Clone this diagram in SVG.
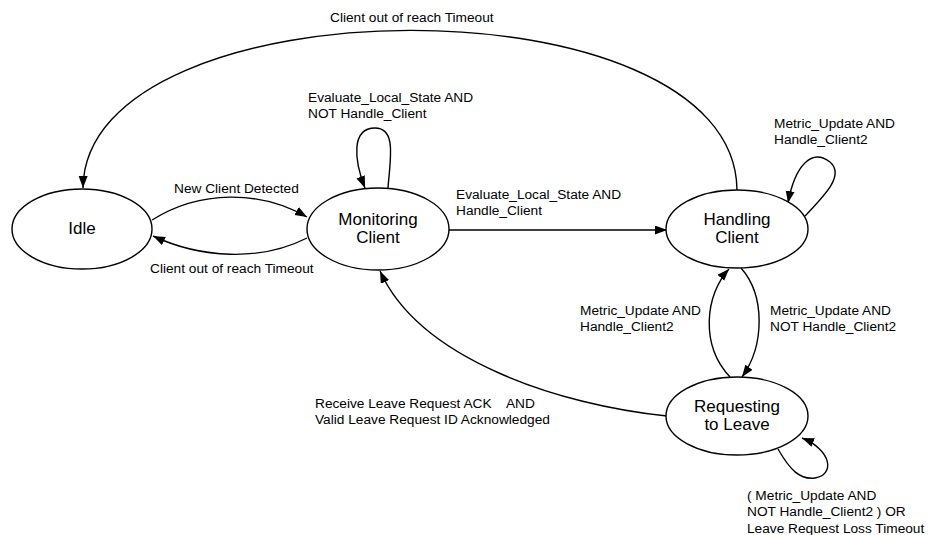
<svg xmlns="http://www.w3.org/2000/svg" width="928" height="535" viewBox="0 0 928 535">
<style>
.node ellipse{fill:#fff;stroke:#000;stroke-width:1.4}
.nt{font-family:"Liberation Sans",Arial,sans-serif;font-size:17px;text-anchor:middle;fill:#000}
.lb{font-family:"Liberation Sans",Arial,sans-serif;font-size:13.7px;fill:#000;white-space:pre}
.edges path{fill:none;stroke:#000;stroke-width:1.4;marker-end:url(#ah)}
</style>
<defs>
<marker id="ah" markerUnits="userSpaceOnUse" markerWidth="13" markerHeight="10" refX="12" refY="4.5" orient="auto">
<path d="M0,0 L12,4.5 L0,9 z" fill="#000"/>
</marker>
</defs>
<rect width="928" height="535" fill="#fff"/>
<g class="edges" id="connectors">
<path d="M152,220 C200,190 260,190 307,217"/>
<path d="M307,238 C260,262 200,258 153,236"/>
<path d="M388,188 C390,160 397,128 375,128 C351,128 354,160 365,188"/>
<path d="M449,230 L667,230"/>
<path d="M805,216 C825,195 845,175 830,162 C812,148 795,165 788,203"/>
<path d="M737,190 C735,-25 85,-20 83,188"/>
<path d="M741,268 C765,295 765,345 742,377"/>
<path d="M730,377 C700,345 705,295 729,269"/>
<path d="M778,449 C790,470 800,480 815,478 C835,475 832,450 802,438"/>
<path d="M667,416 C560,405 420,360 380,271"/>
</g>
<g id="labels">
<text class="lb" x="330" y="22">Client out of reach Timeout</text>
<text class="lb" x="174" y="193">New Client Detected</text>
<text class="lb" x="150" y="273">Client out of reach Timeout</text>
<text class="lb" x="308" y="102">Evaluate_Local_State AND</text>
<text class="lb" x="308" y="118">NOT Handle_Client</text>
<text class="lb" x="456" y="199">Evaluate_Local_State AND</text>
<text class="lb" x="456" y="215">Handle_Client</text>
<text class="lb" x="774" y="128">Metric_Update AND</text>
<text class="lb" x="774" y="144">Handle_Client2</text>
<text class="lb" x="580" y="315">Metric_Update AND</text>
<text class="lb" x="580" y="331">Handle_Client2</text>
<text class="lb" x="770" y="315">Metric_Update AND</text>
<text class="lb" x="770" y="331">NOT Handle_Client2</text>
<text class="lb" x="315" y="408" xml:space="preserve">Receive Leave Request ACK    AND</text>
<text class="lb" x="315" y="424">Valid Leave Request ID Acknowledged</text>
<text class="lb" x="747" y="500">( Metric_Update AND</text>
<text class="lb" x="747" y="516">NOT Handle_Client2 ) OR</text>
<text class="lb" x="747" y="533">Leave Request Loss Timeout</text>
</g>
<g class="node" id="idle">
<ellipse cx="82" cy="229" rx="70" ry="40"/>
<text class="nt" x="82" y="234">Idle</text>
</g>
<g class="node" id="monitoring">
<ellipse cx="378" cy="229" rx="71" ry="41"/>
<text class="nt" x="378" y="225">Monitoring</text>
<text class="nt" x="378" y="243">Client</text>
</g>
<g class="node" id="handling">
<ellipse cx="737" cy="229" rx="71" ry="39"/>
<text class="nt" x="737" y="225">Handling</text>
<text class="nt" x="737" y="243">Client</text>
</g>
<g class="node" id="requesting">
<ellipse cx="737" cy="416" rx="71" ry="39"/>
<text class="nt" x="737" y="412">Requesting</text>
<text class="nt" x="737" y="430">to Leave</text>
</g>
</svg>
